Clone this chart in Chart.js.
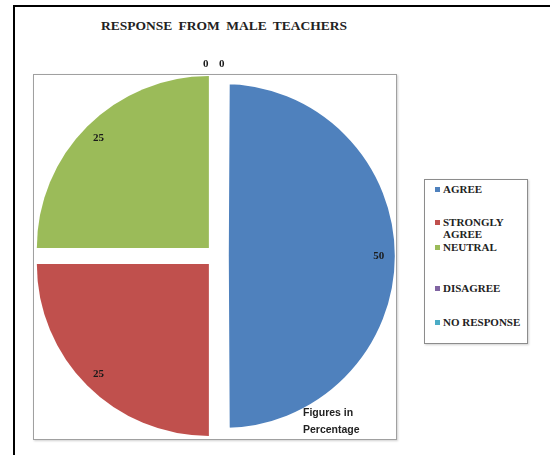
<!DOCTYPE html>
<html>
<head>
<meta charset="utf-8">
<script src="https://cdn.jsdelivr.net/npm/chart.js@4.4.1/dist/chart.umd.min.js"></script>
<style>
  body { margin: 0; width: 550px; height: 455px; overflow: hidden; background: #fff; position: relative; }
  #frame { position: absolute; left: 13px; top: 5px; width: 560px; height: 470px; border: 2px solid #000; box-sizing: border-box; }
  #plotBox { position: absolute; left: 33px; top: 74px; width: 364px; height: 366px; border: 1px solid #a0a0a0; box-sizing: border-box; box-shadow: 1px 1px 2px #d0d0d0; background: transparent; z-index: 2; }
  #title { position: absolute; left: 0; width: 448px; top: 18px; text-align: center; font: bold 13.5px "Liberation Serif", serif; color: #222; word-spacing: 3px; }
  #wrap { position: absolute; left: 0; top: 0; width: 550px; height: 455px; z-index: 1; }
  #legend { position: absolute; left: 424px; top: 179px; width: 104px; height: 165px; border: 1px solid #8c8c8c; box-sizing: border-box; box-shadow: 1px 1px 2px #d0d0d0; }
  .item { position: absolute; left: 10px; font: bold 11px "Liberation Serif", serif; color: #222; line-height: 11.6px; white-space: nowrap; }
  .item .box { position: absolute; left: 0; top: 3px; width: 5px; height: 5px; }
  .item .txt { margin-left: 8px; }
  #note { position: absolute; left: 303px; top: 404px; font: bold 10.5px "Liberation Sans", sans-serif; color: #222; line-height: 17px; z-index: 3; }
</style>
</head>
<body>
<div id="frame"></div>
<div id="plotBox"></div>
<div id="title">RESPONSE FROM MALE TEACHERS</div>
<div id="wrap"><canvas id="pie"></canvas></div>
<div id="legend"></div>
<div id="note">Figures in<br>Percentage</div>
<script>
// data
const categories = ["AGREE", "STRONGLY AGREE", "NEUTRAL", "DISAGREE", "NO RESPONSE"];
const legendLines = [["AGREE"], ["STRONGLY", "AGREE"], ["NEUTRAL"], ["DISAGREE"], ["NO RESPONSE"]];
const percentages = [50, 25, 25, 0, 0];
const sliceColors = ["#4F81BD", "#C0504D", "#9BBB59", "#8064A2", "#4BACC6"];

// legend (excel style box on the right)
const legendTops = [4, 37, 62, 103, 137];
const legend = document.getElementById("legend");
categories.forEach((name, i) => {
    const item = document.createElement("div");
    item.className = "item";
    item.style.top = legendTops[i] + "px";
    item.innerHTML = `<span class="box" style="background:${sliceColors[i]}"></span><div class="txt">${legendLines[i].join("<br>")}</div>`;
    legend.appendChild(item);
});

// value labels, inside the slice or just outside for the empty ones
const valueLabels = {
    id: "valueLabels",
    afterDatasetsDraw(chart) {
        const ctx = chart.ctx;
        const meta = chart.getDatasetMeta(0);
        const zeros = percentages.filter(v => v === 0).length;
        let k = 0;
        ctx.save();
        ctx.font = 'bold 11px "Liberation Serif", serif';
        ctx.fillStyle = "#1a1a1a";
        ctx.textAlign = "center";
        ctx.textBaseline = "middle";
        meta.data.forEach((arc, i) => {
            const p = arc.getProps(["x", "y", "startAngle", "endAngle", "outerRadius"], true);
            const mid = (p.startAngle + p.endAngle) / 2;
            let tx, ty;
            if (percentages[i] > 0) {
                const d = arc.options.offset / 4 + p.outerRadius - 16;
                tx = p.x + Math.cos(mid) * d;
                ty = p.y + Math.sin(mid) * d;
            } else {
                const d = p.outerRadius + 20;
                tx = p.x + Math.cos(mid) * d + (k - (zeros - 1) / 2) * 16 - 3;
                ty = p.y + Math.sin(mid) * d;
                k++;
            }
            ctx.fillText(String(percentages[i]), tx, ty);
        });
        ctx.restore();
    }
};

new Chart(document.getElementById("pie"), {
    type: "pie",
    data: {
        labels: categories,
        datasets: [{
            data: percentages,
            backgroundColor: sliceColors,
            offset: [24, 45, 45, 45, 45],
            hoverOffset: 0,
            // white rim trims the half slice back to the same radius as the quarters
            borderWidth: [12, 0, 0, 0, 0],
            borderColor: "#fff",
            borderJoinStyle: "miter",
        }]
    },
    options: {
        responsive: true,
        maintainAspectRatio: false,
        animation: false,
        radius: 172,
        layout: { padding: { left: 40, right: 156.4, top: 80, bottom: 23 } },
        plugins: {
            legend: { display: false },
            tooltip: { enabled: false },
        },
    },
    plugins: [valueLabels],
});
</script>
</body>
</html>
